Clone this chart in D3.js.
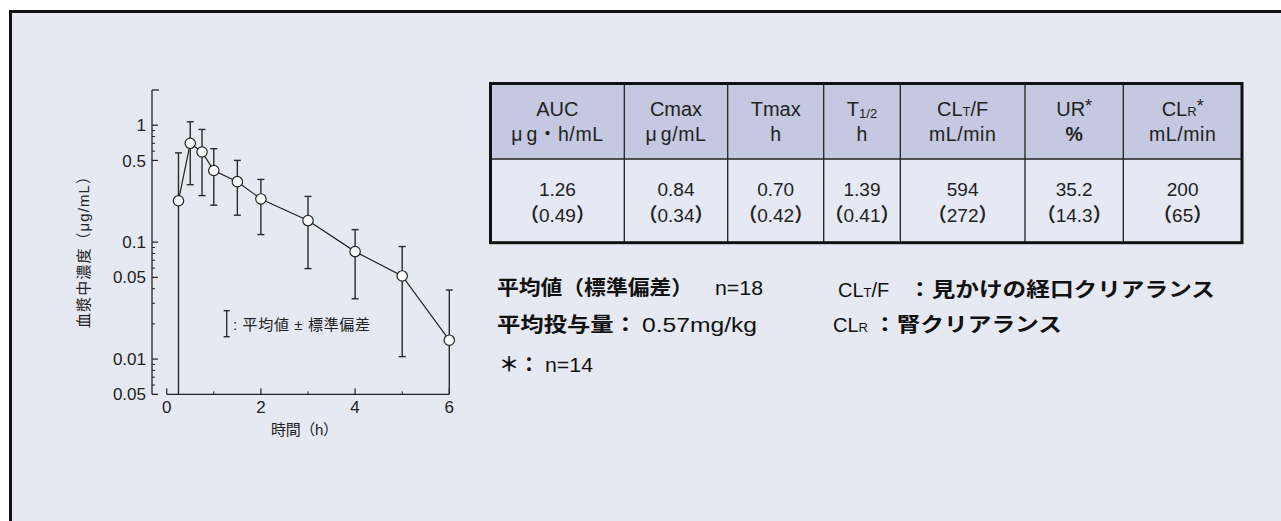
<!DOCTYPE html>
<html><head><meta charset="utf-8">
<script src="https://cdn.jsdelivr.net/npm/d3@7"></script>
<style>
html,body{margin:0;padding:0;background:#fff;}
svg{display:block;font-family:"Liberation Sans",Arial,"Noto Sans CJK JP",sans-serif;}
</style></head><body>
<script>
// ---- data ----
const times = [0.25, 0.5, 0.75, 1, 1.5, 2, 3, 4, 5, 6];
const meanConc = [0.226, 0.70, 0.59, 0.41, 0.329, 0.234, 0.153, 0.083, 0.0514, 0.0145];
const upperConc = [0.58, 1.07, 0.92, 0.63, 0.50, 0.344, 0.246, 0.128, 0.0917, 0.039];
const lowerConc = [0, 0.31, 0.25, 0.207, 0.17, 0.116, 0.0594, 0.0328, 0.0105, 0];
const yMajorTicks = [1, 0.5, 0.1, 0.05, 0.01, 0.005];
const yMajorLabels = ["1", "0.5", "0.1", "0.05", "0.01", "0.05"];
const yMinorTicks = [0.9, 0.8, 0.7, 0.6, 0.09, 0.08, 0.07, 0.06, 0.04, 0.03, 0.02, 0.009, 0.008, 0.007, 0.006];
const xMajorTicks = [0, 2, 4, 6];
const xMinorTicks = [1, 3, 5];
const tableHeads = [
  [{t:"AUC"}],
  [{t:"Cmax"}],
  [{t:"Tmax"}],
  [{t:"T"},{t:"1/2",sub:true}],
  [{t:"CL"},{t:"T",small:true},{t:"/F"}],
  [{t:"UR"},{t:"*",sup:true}],
  [{t:"CL"},{t:"R",small:true},{t:"*",sup:true}]
];
const tableUnits = ["μg・h/mL", "μg/mL", "h", "h", "mL/min", "%", "mL/min"];
const tableMeans = ["1.26", "0.84", "0.70", "1.39", "594", "35.2", "200"];
const tableSDs = ["0.49", "0.34", "0.42", "0.41", "272", "14.3", "65"];

const W = 1281, H = 521;
const svg = d3.select("body").append("svg").attr("width", W).attr("height", H);

// frame
svg.append("rect").attr("x", 10.5).attr("y", 11.5).attr("width", 1400).attr("height", 700)
  .attr("fill", "#e6e8f2").attr("stroke", "#111").attr("stroke-width", 3);

// ---- chart ----
const x = d3.scaleLinear().domain([0, 6]).range([166.7, 449.3]);
const y = d3.scaleLog().domain([0.005, 2]).range([394.3, 90]);
const yAxisX = 152;
const axisCol = "#222";
const g = svg.append("g");

g.append("line").attr("x1", yAxisX).attr("x2", yAxisX).attr("y1", y(2)).attr("y2", y(0.005))
  .attr("stroke", axisCol).attr("stroke-width", 1.3);
g.append("line").attr("x1", yAxisX).attr("x2", yAxisX + 7).attr("y1", y(2)).attr("y2", y(2))
  .attr("stroke", axisCol).attr("stroke-width", 1.3);
g.selectAll(".ymaj").data(yMajorTicks).join("line")
  .attr("x1", yAxisX).attr("x2", yAxisX + 6).attr("y1", d => y(d)).attr("y2", d => y(d))
  .attr("stroke", axisCol).attr("stroke-width", 1.2);
g.selectAll(".ymin").data(yMinorTicks).join("line")
  .attr("x1", yAxisX).attr("x2", yAxisX + 3).attr("y1", d => y(d)).attr("y2", d => y(d))
  .attr("stroke", axisCol).attr("stroke-width", 1);
g.selectAll(".ylab").data(yMajorTicks).join("text")
  .attr("x", yAxisX - 6).attr("y", d => y(d)).attr("dy", "0.36em")
  .attr("text-anchor", "end").attr("font-size", 17).attr("fill", "#222")
  .text((d, i) => yMajorLabels[i]);

const xAxisY = 394.3;
g.append("line").attr("x1", x(0)).attr("x2", x(6)).attr("y1", xAxisY).attr("y2", xAxisY)
  .attr("stroke", axisCol).attr("stroke-width", 1.3);
g.selectAll(".xmaj").data(xMajorTicks).join("line")
  .attr("x1", d => x(d)).attr("x2", d => x(d)).attr("y1", xAxisY).attr("y2", xAxisY - 6)
  .attr("stroke", axisCol).attr("stroke-width", 1.2);
g.selectAll(".xmin").data(xMinorTicks).join("line")
  .attr("x1", d => x(d)).attr("x2", d => x(d)).attr("y1", xAxisY).attr("y2", xAxisY - 3)
  .attr("stroke", axisCol).attr("stroke-width", 1);
g.selectAll(".xlab").data(xMajorTicks).join("text")
  .attr("x", d => x(d)).attr("y", 413).attr("text-anchor", "middle")
  .attr("font-size", 17).attr("fill", "#222").text(d => d);

// axis titles
g.append("text").attr("x", 304.5).attr("y", 435).attr("text-anchor", "middle")
  .attr("font-size", 15).attr("fill", "#222")
  .attr("textLength", 67).attr("lengthAdjust", "spacing").text("時間（h）");
g.append("text").attr("transform", "translate(89,248.5) rotate(-90)").attr("text-anchor", "middle")
  .attr("font-size", 15).attr("fill", "#222")
  .attr("textLength", 159).attr("lengthAdjust", "spacing").text("血漿中濃度（μg/mL）");

// error bars
const pts = times.map((t, i) => ({t, m: meanConc[i], hi: upperConc[i], lo: lowerConc[i]}));
const ylo = v => v <= 0.005 ? y(0.005) : y(v);
const eb = g.append("g").attr("stroke", "#2a2a2a").attr("stroke-width", 1.4);
pts.forEach(p => {
  const cx = x(p.t);
  eb.append("line").attr("x1", cx).attr("x2", cx).attr("y1", y(p.hi)).attr("y2", ylo(p.lo));
  eb.append("line").attr("x1", cx - 3.5).attr("x2", cx + 3.5).attr("y1", y(p.hi)).attr("y2", y(p.hi));
  if (p.lo > 0.005) eb.append("line").attr("x1", cx - 3.5).attr("x2", cx + 3.5).attr("y1", y(p.lo)).attr("y2", y(p.lo));
});

g.append("path").datum(pts)
  .attr("d", d3.line().x(d => x(d.t)).y(d => y(d.m)))
  .attr("fill", "none").attr("stroke", "#222").attr("stroke-width", 1.2);
g.selectAll(".pt").data(pts).join("circle")
  .attr("cx", d => x(d.t)).attr("cy", d => y(d.m)).attr("r", 5.2)
  .attr("fill", "#fff").attr("stroke", "#222").attr("stroke-width", 1.2);

// legend
const lg = g.append("g");
lg.append("line").attr("x1", 226.7).attr("x2", 226.7).attr("y1", 310.7).attr("y2", 336.7).attr("stroke", "#222").attr("stroke-width", 1.3);
lg.append("line").attr("x1", 223.7).attr("x2", 229.7).attr("y1", 310.7).attr("y2", 310.7).attr("stroke", "#222").attr("stroke-width", 1.3);
lg.append("line").attr("x1", 223.7).attr("x2", 229.7).attr("y1", 336.7).attr("y2", 336.7).attr("stroke", "#222").attr("stroke-width", 1.3);
lg.append("text").attr("x", 233).attr("y", 330).attr("font-size", 15).attr("fill", "#222")
  .attr("textLength", 137).attr("lengthAdjust", "spacing")
  .text(": 平均値 ± 標準偏差");

// ---- table ----
const colEdges = [490.5, 624.3, 727.7, 823.7, 900.3, 1025, 1123.3, 1242];
const rowTop = 83.5, rowMid = 159, rowBot = 242.7;
const tg = svg.append("g");
tg.append("rect").attr("x", colEdges[0]).attr("y", rowTop).attr("width", colEdges[7] - colEdges[0]).attr("height", rowMid - rowTop).attr("fill", "#c4c8e1");
tg.append("rect").attr("x", colEdges[0]).attr("y", rowMid).attr("width", colEdges[7] - colEdges[0]).attr("height", rowBot - rowMid).attr("fill", "#e6e8f3");
colEdges.slice(1, 7).forEach(cx => tg.append("line").attr("x1", cx).attr("x2", cx).attr("y1", rowTop).attr("y2", rowBot).attr("stroke", "#222").attr("stroke-width", 1.3));
tg.append("line").attr("x1", colEdges[0]).attr("x2", colEdges[7]).attr("y1", rowMid).attr("y2", rowMid).attr("stroke", "#222").attr("stroke-width", 1.5);
tg.append("rect").attr("x", colEdges[0]).attr("y", rowTop).attr("width", colEdges[7] - colEdges[0]).attr("height", rowBot - rowTop)
  .attr("fill", "none").attr("stroke", "#111").attr("stroke-width", 3);

for (let i = 0; i < 7; i++) {
  const cx = (colEdges[i] + colEdges[i + 1]) / 2;
  const h = tg.append("text").attr("x", cx).attr("y", 115.5).attr("text-anchor", "middle").attr("font-size", 20).attr("fill", "#222");
  tableHeads[i].forEach(s => {
    const ts = h.append("tspan").text(s.t);
    if (s.sub) ts.attr("font-size", 13).attr("dy", 2);
    if (s.small) ts.attr("font-size", 13);
    if (s.sup) ts.attr("font-size", 18).attr("dy", -4);
  });
  const unit = tableUnits[i];
  const u = tg.append("text").attr("x", cx).attr("y", 140.5).attr("text-anchor", "middle").attr("font-size", 19.5)
    .attr("fill", "#222").attr("font-weight", unit === "%" ? "bold" : "normal");
  if (unit.startsWith("μ")) {
    u.append("tspan").text("μ");
    u.append("tspan").attr("dx", 4).attr("letter-spacing", 0.6).text(unit.slice(1));
  } else {
    u.attr("letter-spacing", unit.length > 2 ? 0.6 : 0).text(unit);
  }
  tg.append("text").attr("x", cx).attr("y", 195.7).attr("text-anchor", "middle").attr("font-size", 19)
    .attr("fill", "#222").text(tableMeans[i]);
  const sd = tg.append("text").attr("x", cx).attr("y", 221.5).attr("text-anchor", "middle").attr("font-size", 19).attr("fill", "#222");
  sd.append("tspan").attr("font-weight", "bold").attr("font-family", "Noto Sans CJK JP").text("（");
  sd.append("tspan").text(tableSDs[i]);
  sd.append("tspan").attr("font-weight", "bold").attr("font-family", "Noto Sans CJK JP").text("）");
}

// ---- notes ----
const ng = svg.append("g").attr("fill", "#111").attr("font-size", 20);
function seg(txt, x0, yb, opts) {
  const t = ng.append("text").attr("x", x0).attr("y", yb).text(txt);
  if (opts.bold) t.attr("font-weight", "bold");
  if (opts.w) t.attr("textLength", opts.w).attr("lengthAdjust", "spacingAndGlyphs");
  return t;
}
seg("平均値（標準偏差）", 497, 295, {bold: true, w: 196});
seg("n=18", 715, 295, {w: 48});
seg("平均投与量：", 497, 331.7, {bold: true, w: 140});
seg("0.57mg/kg", 642, 331.7, {w: 115});
seg("＊：", 499, 371.7, {bold: true, w: 40});
seg("n=14", 545, 371.7, {w: 48});

const r1 = ng.append("text").attr("x", 838).attr("y", 296.7);
r1.append("tspan").text("CL");
r1.append("tspan").attr("font-size", 13).text("T");
r1.append("tspan").text("/F");
seg("：見かけの経口クリアランス", 908, 296.7, {bold: true, w: 307});
const r2 = ng.append("text").attr("x", 833).attr("y", 331.7);
r2.append("tspan").text("CL");
r2.append("tspan").attr("font-size", 13).text("R");
seg("：腎クリアランス", 873, 331.7, {bold: true, w: 189});
</script>
</body></html>
